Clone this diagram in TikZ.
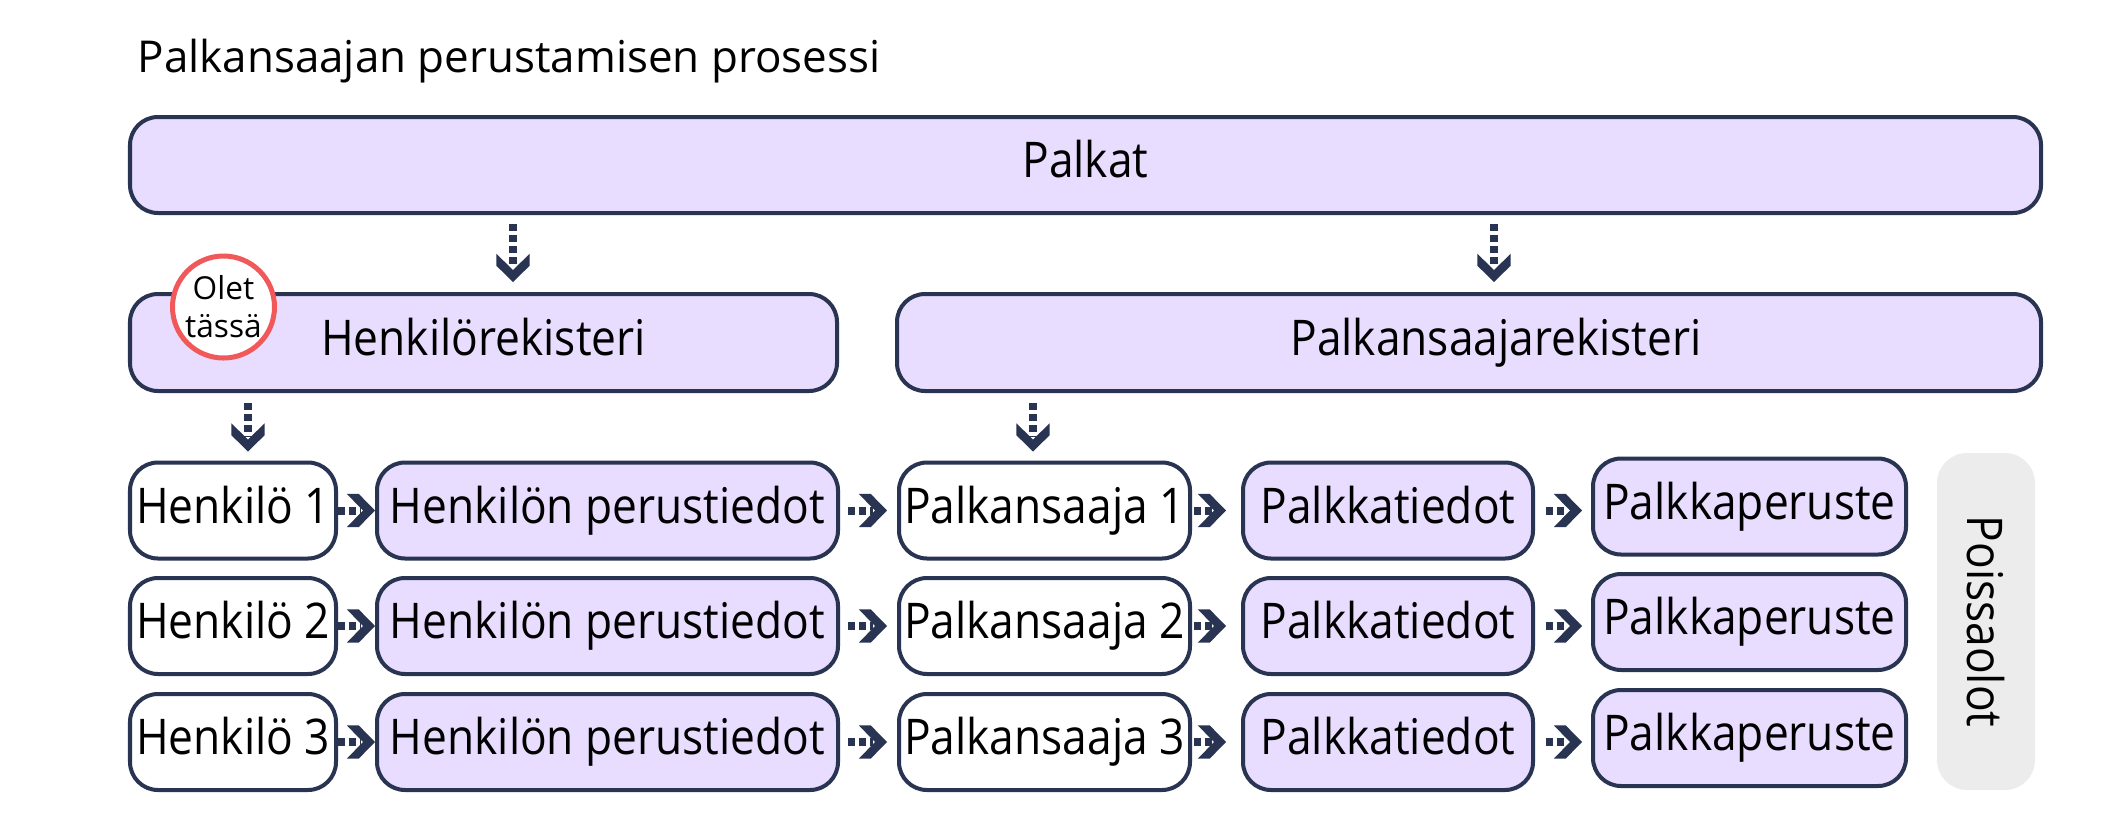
\documentclass[tikz,border=0pt]{standalone}
\usepackage{fontspec}
\setmainfont{Open Sans}
\newfontfamily\boxfont[FakeStretch=0.9]{Open Sans}

\definecolor{navy}{RGB}{41,51,82}
\definecolor{lavender}{RGB}{232,220,255}
\definecolor{redring}{RGB}{240,88,90}
\definecolor{greybg}{RGB}{236,236,236}

% chevron head for the dotted flow arrows
\pgfdeclarearrow{
  name = FlowHead,
  setup code = {
    \pgfarrowssettipend{0pt}
    \pgfarrowssetlineend{-4pt}
    \pgfarrowssetbackend{-8pt}
    \pgfarrowshullpoint{0pt}{0pt}
    \pgfarrowshullpoint{-8pt}{4.7pt}
    \pgfarrowshullpoint{-8pt}{-4.7pt}
  },
  drawing code = {
    \pgfpathmoveto{\pgfpointorigin}
    \pgfpathlineto{\pgfpoint{-4.6pt}{4.7pt}}
    \pgfpathlineto{\pgfpoint{-8pt}{4.7pt}}
    \pgfpathlineto{\pgfpoint{-3.4pt}{0pt}}
    \pgfpathlineto{\pgfpoint{-8pt}{-4.7pt}}
    \pgfpathlineto{\pgfpoint{-4.6pt}{-4.7pt}}
    \pgfpathclose
    \pgfusepathqfill
  }
}

\begin{document}
\begin{tikzpicture}[
    box/.style={draw=navy, line width=1.14pt, fill=lavender, rounded corners=0.28cm,
        minimum height=0.96cm, inner sep=0pt, font=\boxfont\fontsize{14}{17}\selectfont,
        text height=0.35cm, text depth=0.1cm},
    plain/.style={box, fill=white},
    flow/.style={navy, line width=0.08cm, dash pattern=on 0.065cm off 0.045cm, -FlowHead}
]
    \useasboundingbox (0,0) rectangle (21.27,8.27);

    % Title
    \node[anchor=base west, font=\fontsize{12.5}{15}\selectfont, inner sep=0pt] (title) at (1.37,7.55) {Palkansaajan perustamisen prosessi};

    % Top level and registers
    \node[box, minimum width=19.11cm] (palkat) at (10.855,6.62) {Palkat};
    \node[box, minimum width=7.07cm, minimum height=0.97cm] (henkreg) at (4.835,4.845) {Henkilörekisteri};
    \node[box, minimum width=11.44cm, minimum height=0.97cm] (palkreg) at (14.69,4.845) {\hspace*{0.54cm}Palkansaajarekisteri};

    % You are here
    \node[circle, draw=redring, line width=0.05cm, fill=white, minimum size=1.02cm, inner sep=0pt,
        align=center, font=\fontsize{9}{10.8}\selectfont] (here) at (2.235,5.2) {Olet\\tässä};

    % Rows
    \foreach \i/\y in {1/3.165, 2/2.01, 3/0.85} {
        \node[plain, minimum width=2.06cm] (henk\i) at (2.33,\y) {Henkilö \i};
        \node[box, minimum width=4.61cm] (perus\i) at (6.075,\y) {Henkilön perustiedot};
        \node[plain, minimum width=2.91cm] (palk\i) at (10.445,\y) {Palkansaaja \i};
        \node[box, minimum width=2.90cm] (tied\i) at (13.88,\y) {Palkkatiedot};
        \node[box, minimum width=3.13cm] (perust\i) at (17.495,\y+0.04) {Palkkaperuste};
        \draw[flow] (henk\i.east) -- (perus\i.west);
        \draw[flow, shorten <=0.08cm, shorten >=0.1cm] (perus\i.east) -- (palk\i.west);
        \draw[flow, shorten <=0.02cm, shorten >=0.15cm] (palk\i.east) -- (tied\i.west);
        \draw[flow, shorten <=0.11cm, shorten >=0.09cm] (tied\i.east) -- (tied\i.east -| perust\i.west);
    }

    % Absences
    \node[fill=greybg, rounded corners=0.3cm, minimum width=3.37cm, minimum height=0.98cm, rotate=-90,
        font=\boxfont\fontsize{14}{17}\selectfont] (pois) at (19.86,2.055) {Poissaolot};

    % Downward arrows
    \coordinate (v1) at ([xshift=0.295cm]henkreg.north);
    \coordinate (v2) at ([xshift=0.25cm]palkreg.north);
    \coordinate (v3) at ([xshift=0.15cm]henk1.north);
    \coordinate (v4) at ([xshift=-0.115cm]palk1.north);
    \draw[flow, shorten <=0.09cm, shorten >=0.1cm] (v1 |- palkat.south) -- (v1);
    \draw[flow, shorten <=0.09cm, shorten >=0.1cm] (v2 |- palkat.south) -- (v2);
    \draw[flow, shorten <=0.1cm, shorten >=0.09cm] (v3 |- henkreg.south) -- (v3);
    \draw[flow, shorten <=0.1cm, shorten >=0.09cm] (v4 |- palkreg.south) -- (v4);
\end{tikzpicture}
\end{document}
